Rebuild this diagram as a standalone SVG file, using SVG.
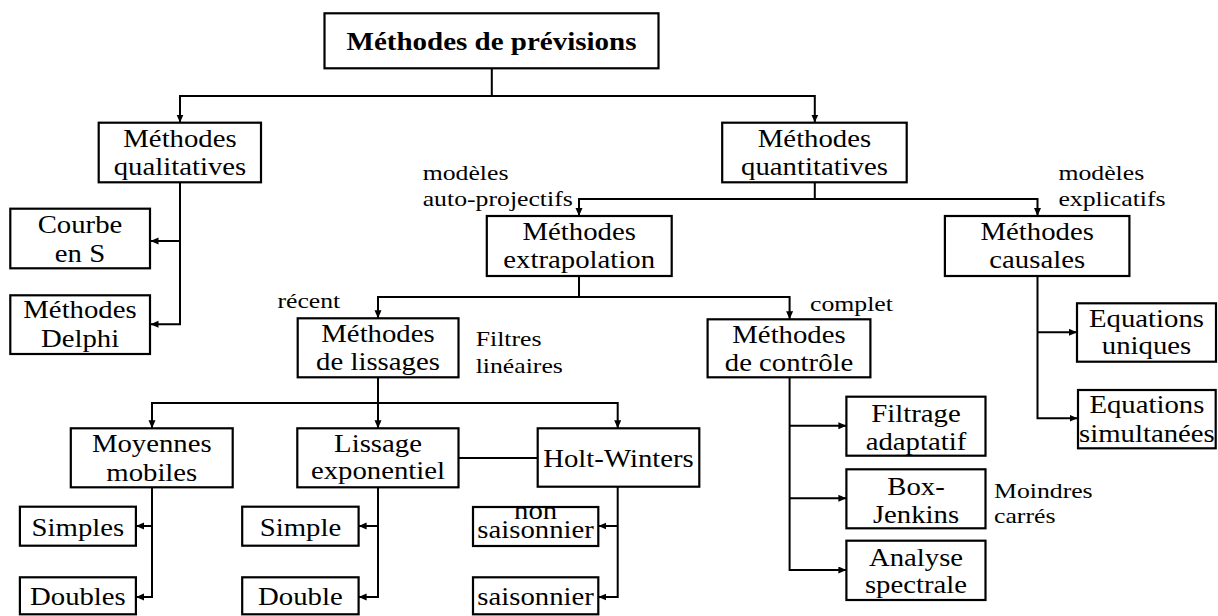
<svg xmlns="http://www.w3.org/2000/svg" width="1218" height="616" viewBox="0 0 1218 616">
<defs>
<style>
rect.box { fill: #fff; stroke: #000; stroke-width: 2.2; }
text { font-family: "Liberation Serif", "Times New Roman", "DejaVu Serif", serif; fill: #000; }
text.n { font-size: 25px; text-anchor: middle; }
text.b { font-size: 25px; font-weight: bold; text-anchor: middle; }
text.l { font-size: 22px; text-anchor: start; }
.c path { fill: none; stroke: #000; stroke-width: 2; }
.c path.a { marker-end: url(#arr); }
</style>
<marker id="arr" markerUnits="userSpaceOnUse" markerWidth="9" markerHeight="8" refX="8" refY="3.5" orient="auto">
<path d="M0,0 L8,3.5 L0,7 z" fill="#000"/>
</marker>
</defs>
<rect width="1218" height="616" fill="#fff"/>

<g class="c" id="connectors">
<path class="a" d="M491.8 68 V96 H180 V122.5"/>
<path class="a" d="M491.8 96 H814.8 V122.5"/>
<path class="a" d="M180 182 V324.3 H150.5"/>
<path class="a" d="M180 241 H150.5"/>
<path class="a" d="M814.8 182 V199 H579 V216"/>
<path class="a" d="M814.8 199 H1037.5 V216"/>
<path class="a" d="M579 276 V297 H378 V318.3"/>
<path class="a" d="M579 297 H789.6 V319.3"/>
<path class="a" d="M378 377 V403 H152 V428.3"/>
<path class="a" d="M378 403 V428.3"/>
<path class="a" d="M378 403 H617.7 V428.3"/>
<path class="a" d="M1037.5 276 V418.3 H1077.5"/>
<path class="a" d="M1037.5 332.3 H1077"/>
<path class="a" d="M789.6 377 V570 H846.4"/>
<path class="a" d="M789.6 425.7 H846.4"/>
<path class="a" d="M789.6 498.3 H846.4"/>
<path class="a" d="M152 487 V597 H136"/>
<path class="a" d="M152 526 H136"/>
<path class="a" d="M378 487 V597 H358.6"/>
<path class="a" d="M378 526 H358.6"/>
<path class="a" d="M617.7 487 V597 H598.3"/>
<path class="a" d="M617.7 526 H598.3"/>
<path d="M458.5 458 H537.7"/>
</g>

<g id="n-top">
<rect class="box" x="324.5" y="13.3" width="334" height="55"/>
<text class="b" transform="translate(491.5 0) scale(1.16 1)" x="0" y="50">Méthodes de prévisions</text>
</g>
<g id="n-qual">
<rect class="box" x="98.7" y="122.7" width="162.3" height="59.6"/>
<text class="n" transform="translate(180 0) scale(1.15 1)" x="0" y="146.7">Méthodes</text>
<text class="n" transform="translate(180 0) scale(1.15 1)" x="0" y="175">qualitatives</text>
</g>
<g id="n-quant">
<rect class="box" x="722.2" y="122.7" width="184.5" height="59.6"/>
<text class="n" transform="translate(814.5 0) scale(1.15 1)" x="0" y="146.7">Méthodes</text>
<text class="n" transform="translate(814.5 0) scale(1.15 1)" x="0" y="175">quantitatives</text>
</g>
<g id="n-courbe">
<rect class="box" x="10.3" y="208.7" width="139.7" height="59.6"/>
<text class="n" transform="translate(80 0) scale(1.15 1)" x="0" y="233.3">Courbe</text>
<text class="n" transform="translate(80 0) scale(1.15 1)" x="0" y="261.7">en S</text>
</g>
<g id="n-delphi">
<rect class="box" x="10.3" y="295.3" width="139.7" height="58.7"/>
<text class="n" transform="translate(80 0) scale(1.15 1)" x="0" y="318.3">Méthodes</text>
<text class="n" transform="translate(80 0) scale(1.15 1)" x="0" y="346.7">Delphi</text>
</g>
<g id="n-extrap">
<rect class="box" x="486.8" y="216" width="184.9" height="60"/>
<text class="n" transform="translate(579.2 0) scale(1.15 1)" x="0" y="240">Méthodes</text>
<text class="n" transform="translate(579.2 0) scale(1.15 1)" x="0" y="268.3">extrapolation</text>
</g>
<g id="n-causales">
<rect class="box" x="944.9" y="216" width="184.5" height="60"/>
<text class="n" transform="translate(1037.2 0) scale(1.15 1)" x="0" y="240">Méthodes</text>
<text class="n" transform="translate(1037.2 0) scale(1.15 1)" x="0" y="268.3">causales</text>
</g>
<g id="n-lissages">
<rect class="box" x="297.7" y="318.3" width="160.8" height="59"/>
<text class="n" transform="translate(378 0) scale(1.15 1)" x="0" y="341.7">Méthodes</text>
<text class="n" transform="translate(378 0) scale(1.15 1)" x="0" y="370.5">de lissages</text>
</g>
<g id="n-controle">
<rect class="box" x="707.6" y="319.3" width="162.8" height="58"/>
<text class="n" transform="translate(789 0) scale(1.15 1)" x="0" y="343.3">Méthodes</text>
<text class="n" transform="translate(789 0) scale(1.15 1)" x="0" y="371.5">de contrôle</text>
</g>
<g id="n-equniques">
<rect class="box" x="1077" y="303.3" width="139" height="58.4"/>
<text class="n" transform="translate(1146.5 0) scale(1.15 1)" x="0" y="326.7">Equations</text>
<text class="n" transform="translate(1146.5 0) scale(1.15 1)" x="0" y="354">uniques</text>
</g>
<g id="n-eqsimult">
<rect class="box" x="1078" y="390" width="137.7" height="58.3"/>
<text class="n" transform="translate(1146.9 0) scale(1.15 1)" x="0" y="413.3">Equations</text>
<text class="n" transform="translate(1146.9 0) scale(1.15 1)" x="0" y="442.5">simultanées</text>
</g>
<g id="n-filtrage">
<rect class="box" x="846.4" y="396.7" width="139.1" height="59"/>
<text class="n" transform="translate(916 0) scale(1.15 1)" x="0" y="421.7">Filtrage</text>
<text class="n" transform="translate(916 0) scale(1.15 1)" x="0" y="450">adaptatif</text>
</g>
<g id="n-boxjenkins">
<rect class="box" x="846.4" y="469.3" width="139.1" height="59"/>
<text class="n" transform="translate(916 0) scale(1.15 1)" x="0" y="495">Box-</text>
<text class="n" transform="translate(916 0) scale(1.15 1)" x="0" y="523.3">Jenkins</text>
</g>
<g id="n-analyse">
<rect class="box" x="846.4" y="540.7" width="139.1" height="59.3"/>
<text class="n" transform="translate(916 0) scale(1.15 1)" x="0" y="565.7">Analyse</text>
<text class="n" transform="translate(916 0) scale(1.15 1)" x="0" y="593">spectrale</text>
</g>
<g id="n-moyennes">
<rect class="box" x="70.8" y="428.3" width="161.9" height="59"/>
<text class="n" transform="translate(151.8 0) scale(1.15 1)" x="0" y="451.7">Moyennes</text>
<text class="n" transform="translate(151.8 0) scale(1.15 1)" x="0" y="480.7">mobiles</text>
</g>
<g id="n-lissexpo">
<rect class="box" x="297.3" y="428.3" width="161.2" height="59"/>
<text class="n" transform="translate(378 0) scale(1.15 1)" x="0" y="451.7">Lissage</text>
<text class="n" transform="translate(378 0) scale(1.15 1)" x="0" y="479.5">exponentiel</text>
</g>
<g id="n-holt">
<rect class="box" x="537.7" y="428.3" width="161.6" height="58.4"/>
<text class="n" transform="translate(618.5 0) scale(1.15 1)" x="0" y="467">Holt-Winters</text>
</g>
<g id="n-simples">
<rect class="box" x="19.9" y="506.7" width="116" height="39"/>
<text class="n" transform="translate(77.9 0) scale(1.15 1)" x="0" y="536">Simples</text>
</g>
<g id="n-doubles">
<rect class="box" x="19.9" y="577.3" width="116" height="37"/>
<text class="n" transform="translate(77.9 0) scale(1.15 1)" x="0" y="605">Doubles</text>
</g>
<g id="n-simple">
<rect class="box" x="242.2" y="506.7" width="116.4" height="39"/>
<text class="n" transform="translate(300.4 0) scale(1.15 1)" x="0" y="536">Simple</text>
</g>
<g id="n-double">
<rect class="box" x="242.2" y="577.3" width="116.4" height="37"/>
<text class="n" transform="translate(300.4 0) scale(1.15 1)" x="0" y="605">Double</text>
</g>
<g id="n-nonsais">
<rect class="box" x="473" y="507" width="125.3" height="39"/>
<text class="n" transform="translate(535.6 0) scale(1.15 1)" x="0" y="519">non</text>
<text class="n" transform="translate(535.6 0) scale(1.15 1)" x="0" y="538.5">saisonnier</text>
</g>
<g id="n-sais">
<rect class="box" x="473" y="577.3" width="125.3" height="37"/>
<text class="n" transform="translate(535.6 0) scale(1.15 1)" x="0" y="605">saisonnier</text>
</g>

<g id="labels">
<text class="l" transform="translate(422.7 0) scale(1.17 1)" x="0" y="180">modèles</text>
<text class="l" transform="translate(422.7 0) scale(1.17 1)" x="0" y="206">auto-projectifs</text>
<text class="l" transform="translate(1058.4 0) scale(1.17 1)" x="0" y="180">modèles</text>
<text class="l" transform="translate(1058.4 0) scale(1.17 1)" x="0" y="206">explicatifs</text>
<text class="l" transform="translate(277.4 0) scale(1.17 1)" x="0" y="308">récent</text>
<text class="l" transform="translate(810 0) scale(1.17 1)" x="0" y="311">complet</text>
<text class="l" transform="translate(475.7 0) scale(1.17 1)" x="0" y="345.7">Filtres</text>
<text class="l" transform="translate(475.7 0) scale(1.17 1)" x="0" y="372.7">linéaires</text>
<text class="l" transform="translate(994 0) scale(1.17 1)" x="0" y="498">Moindres</text>
<text class="l" transform="translate(994 0) scale(1.17 1)" x="0" y="523">carrés</text>
</g>
</svg>
